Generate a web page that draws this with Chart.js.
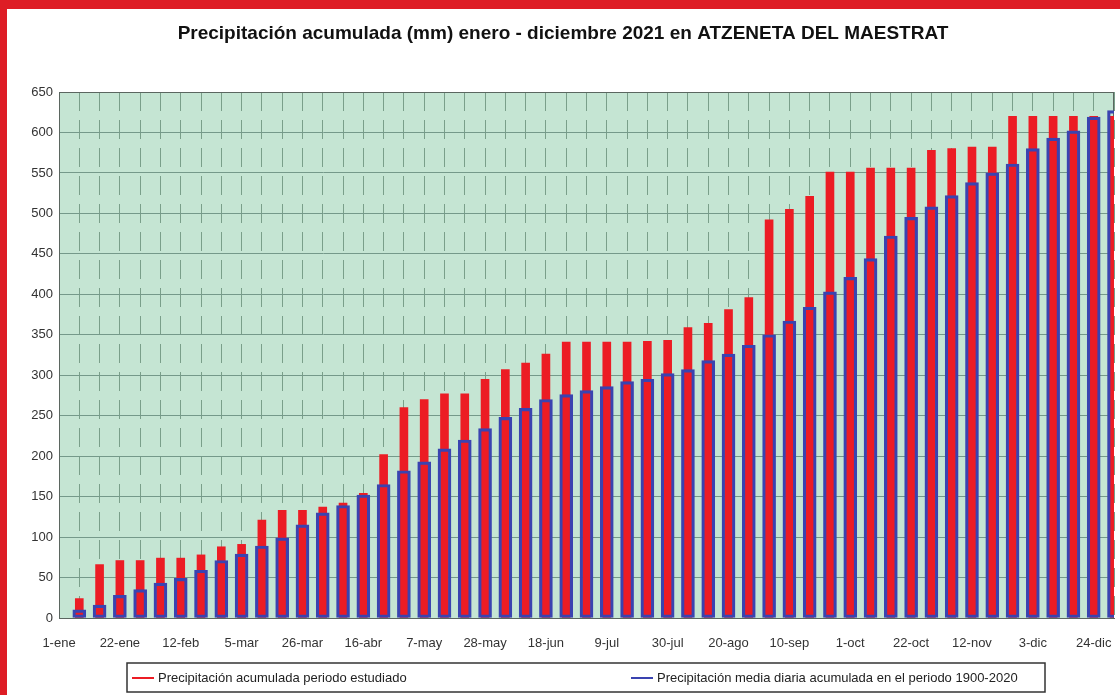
<!DOCTYPE html>
<html>
<head>
<meta charset="utf-8">
<script src="https://cdn.jsdelivr.net/npm/chart.js@4"></script>
<style>
  html, body { margin: 0; padding: 0; background: #fff; }
  #wrap { position: relative; width: 1120px; height: 695px; }
</style>
</head>
<body>
<div id="wrap"><canvas id="myChart" width="1120" height="695"></canvas></div>
<script>
// semanas (cada 7 dias) desde 1-ene hasta 31-dic
const semanas = [
    '1-ene', '8-ene', '15-ene', '22-ene', '29-ene', '5-feb', '12-feb', '19-feb', '26-feb',
    '5-mar', '12-mar', '19-mar', '26-mar', '2-abr', '9-abr', '16-abr', '23-abr', '30-abr',
    '7-may', '14-may', '21-may', '28-may', '4-jun', '11-jun', '18-jun', '25-jun',
    '2-jul', '9-jul', '16-jul', '23-jul', '30-jul', '6-ago', '13-ago', '20-ago', '27-ago',
    '3-sep', '10-sep', '17-sep', '24-sep', '1-oct', '8-oct', '15-oct', '22-oct', '29-oct',
    '5-nov', '12-nov', '19-nov', '26-nov', '3-dic', '10-dic', '17-dic', '24-dic', '31-dic'
];

// precipitacion acumulada 2021 (mm)
const acumulada2021 = [
    null, 24, 66, 71, 71, 74, 74, 78, 88, 91, 121, 133, 133, 137, 142, 154, 202, 260,
    270, 277, 277, 295, 307, 315, 326, 341, 341, 341, 341, 342, 343, 359, 364, 381, 396,
    492, 505, 521, 551, 551, 556, 556, 556, 578, 580, 582, 582, 620, 620, 620, 620, 620, 620
];

// media diaria acumulada 1900-2020 (mm)
const mediaHistorica = [
    null, 10, 16, 28, 35, 43, 49, 59, 71, 79, 89, 99, 115, 130, 139, 152, 165, 182,
    193, 209, 220, 234, 248, 259, 270, 276, 281, 286, 292, 295, 302, 307, 318, 326, 337,
    350, 367, 384, 403, 421, 444, 472, 495, 508, 522, 538, 550, 561, 580, 593, 602, 619, 627
];

const yTicks = { min: 0, max: 650, step: 50 };
const tituloTexto = 'Precipitación acumulada (mm) enero - diciembre 2021 en ATZENETA DEL MAESTRAT';
const fuente = '"Liberation Sans", Arial, sans-serif';

const ROJO = '#ec1c24';
const AZUL = '#3a43b0';

// fondo verde del area, marco rojo, titulo y leyenda
const decoracion = {
    id: 'decoracion',
    beforeDraw(chart) {
        const { ctx, chartArea: a } = chart;
        ctx.save();
        ctx.fillStyle = '#fff';
        ctx.fillRect(0, 0, chart.width, chart.height);
        ctx.fillStyle = '#c5e5d3';
        ctx.fillRect(a.left, a.top, a.right - a.left, a.bottom - a.top);
        ctx.restore();
    },
    beforeDatasetsDraw(chart) {
        const { ctx, chartArea: a } = chart;
        ctx.save();
        ctx.strokeStyle = '#5b6660';
        ctx.lineWidth = 1;
        ctx.strokeRect(a.left + 0.5, a.top + 0.5, a.right - a.left - 1, a.bottom - a.top);
        ctx.restore();
    },
    afterDraw(chart) {
        const ctx = chart.ctx;
        ctx.save();
        // titulo
        ctx.fillStyle = '#111';
        ctx.font = 'bold 19px ' + fuente;
        ctx.textAlign = 'center';
        ctx.textBaseline = 'alphabetic';
        ctx.fillText(tituloTexto, 563, 39);

        // leyenda
        ctx.strokeStyle = '#333';
        ctx.lineWidth = 1.5;
        ctx.strokeRect(127, 663, 918, 29);
        const ds = chart.data.datasets;
        const items = [
            { x: 132, color: ds[0].backgroundColor, text: ds[0].label },
            { x: 631, color: ds[1].borderColor, text: ds[1].label }
        ];
        ctx.font = '13px ' + fuente;
        ctx.textAlign = 'left';
        ctx.textBaseline = 'middle';
        items.forEach(it => {
            ctx.strokeStyle = it.color;
            ctx.lineWidth = 2;
            ctx.beginPath();
            ctx.moveTo(it.x, 678);
            ctx.lineTo(it.x + 22, 678);
            ctx.stroke();
            ctx.fillStyle = '#222';
            ctx.fillText(it.text, it.x + 26, 678);
        });

        // marco rojo (arriba e izquierda)
        ctx.fillStyle = '#de1d25';
        ctx.fillRect(0, 0, chart.width, 9);
        ctx.fillRect(0, 0, 7, chart.height);
        ctx.restore();
    }
};

let ctx = document.getElementById('myChart');
Chart.defaults.font.family = fuente;
Chart.defaults.font.size = 13;
Chart.defaults.color = '#333';

new Chart(ctx, {
    type: 'bar',
    data: {
        labels: semanas,
        datasets: [{
            label: 'Precipitación acumulada periodo estudiado',
            data: acumulada2021,
            backgroundColor: ROJO,
            borderWidth: 0,
            barThickness: 8,
            grouped: false,
            order: 1
        }, {
            label: 'Precipitación media diaria acumulada en el periodo 1900-2020',
            data: mediaHistorica,
            backgroundColor: 'rgba(0,0,0,0)',
            borderColor: AZUL,
            borderWidth: 2.5,
            borderSkipped: false,
            barThickness: 13,
            grouped: false,
            order: 0
        }]
    },
    options: {
        responsive: false,
        animation: false,
        layout: { padding: { left: 0, top: 92, right: 6, bottom: 0 } },
        plugins: {
            legend: { display: false },
            title: { display: false },
            tooltip: { enabled: false }
        },
        scales: {
            x: {
                type: 'category',
                offset: false,
                afterFit(scale) {
                    scale.height = 77;
                    scale.paddingRight = 0;
                },
                grid: {
                    offset: false,
                    color: '#7a9f8a',
                    lineWidth: 1,
                    drawTicks: false
                },
                border: { display: true, color: '#5b6660', dash: [19, 9] },
                ticks: {
                    autoSkip: false,
                    maxRotation: 0,
                    padding: 18,
                    color: '#333',
                    font: { size: 13 },
                    callback: function (val, i) {
                        return i % 3 === 0 ? this.getLabelForValue(val) : '';
                    }
                }
            },
            y: {
                min: yTicks.min,
                max: yTicks.max,
                afterFit(scale) { scale.width = 59; },
                grid: {
                    color: '#75998a',
                    lineWidth: 1,
                    drawTicks: false
                },
                border: { display: true, color: '#5b6660' },
                ticks: {
                    stepSize: yTicks.step,
                    padding: 6,
                    color: '#333',
                    font: { size: 13 }
                }
            }
        }
    },
    plugins: [decoracion]
});
</script>
</body>
</html>
